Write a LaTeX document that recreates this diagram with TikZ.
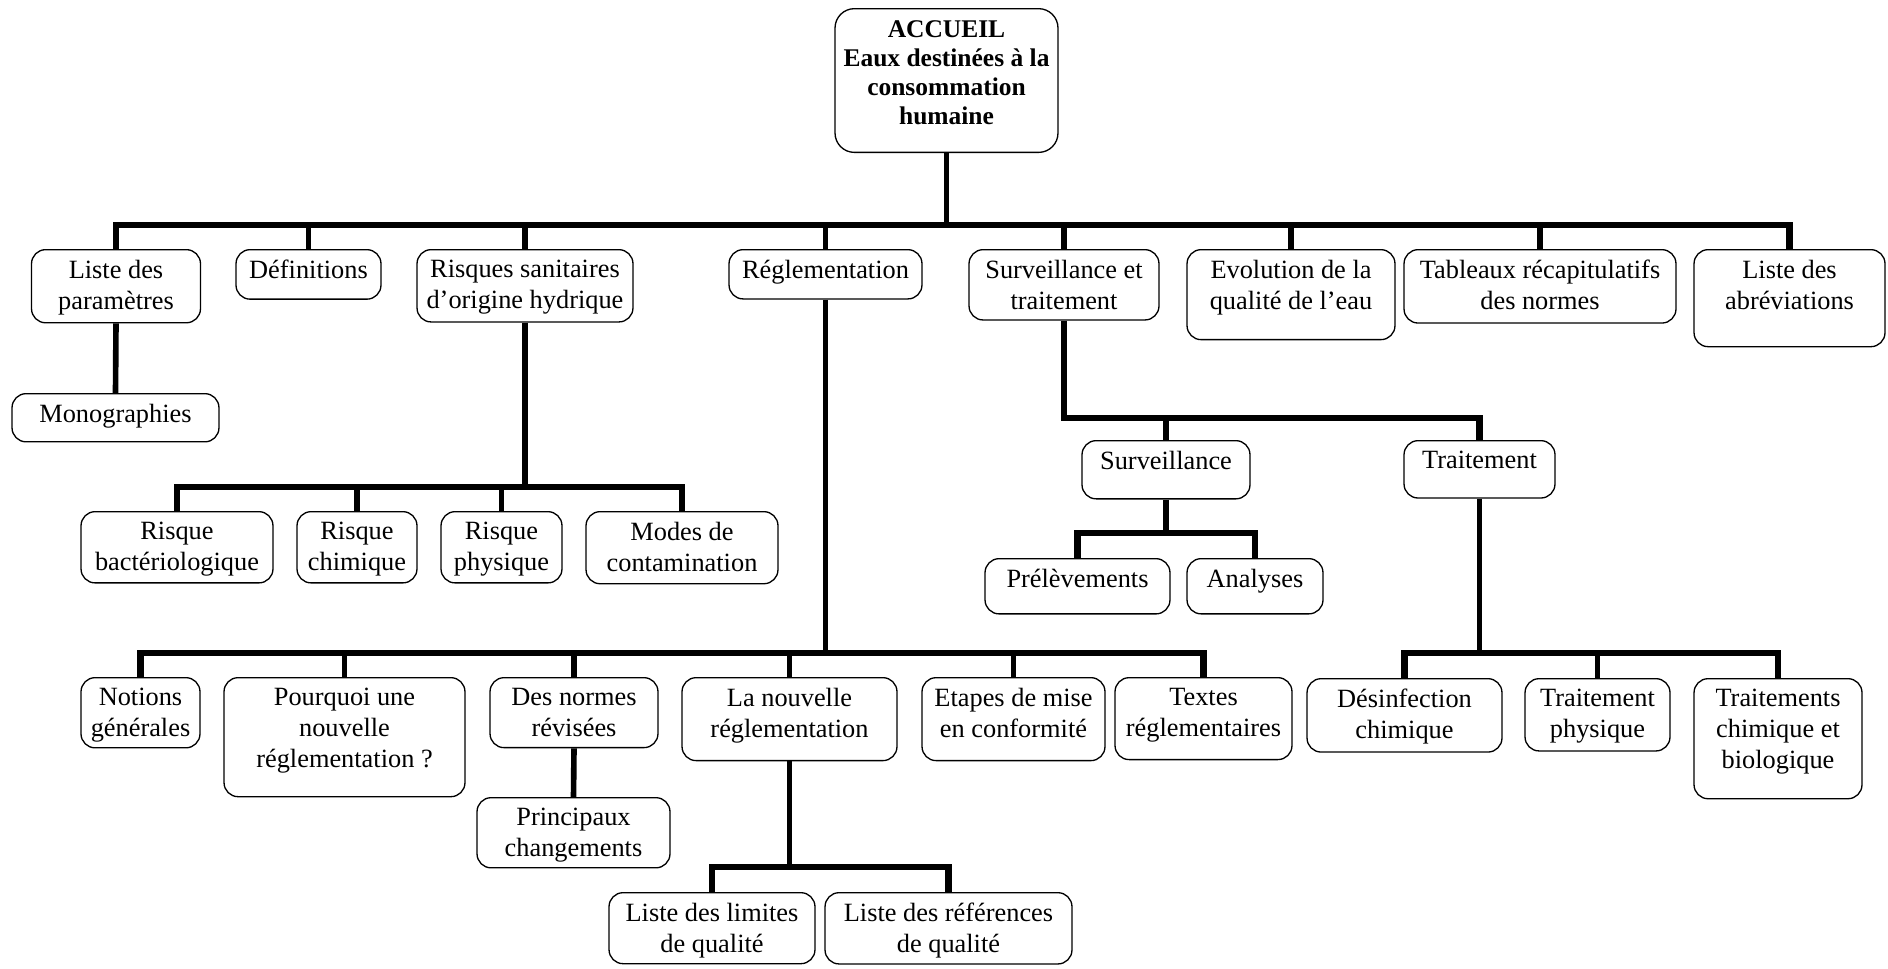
\documentclass[tikz,border=0pt]{standalone}
\usepackage{fontspec}
\setmainfont{Liberation Serif}
\usetikzlibrary{calc}

\begin{document}
\begin{tikzpicture}[x=0.02cm, y=-0.02cm, font=\fontsize{15}{17.6}\selectfont,
    box/.style={draw, line width=0.75pt, rounded corners=8pt, align=center, anchor=north,
                inner xsep=3pt, inner ysep=6pt, text depth=1.6pt},
    bar/.style={line width=3.8pt},
    drop/.style={line width=3.2pt}]
  \useasboundingbox (0,0) rectangle (1888,968);

  % accueil
  \node[box, minimum width=4.46cm, inner ysep=7pt, text depth=8.7pt, rounded corners=11pt,
        font=\fontsize{14.5}{16.5}\selectfont\bfseries] (accueil) at (946.5,8)
       {ACCUEIL\\Eaux destinées à la\\consommation\\humaine};

  % premier niveau
  \node[box, minimum width=3.38cm] (param) at (116,249) {Liste des\\paramètres};
  \node[box, minimum width=2.9cm, text depth=5.6pt] (defs) at (308.5,249) {Définitions};
  \node[box, minimum width=4.32cm] (risques) at (525,249) {Risques sanitaires\\d’origine hydrique};
  \node[box, minimum width=3.86cm, text depth=5.6pt] (regl) at (825.5,249) {Réglementation};
  \node[box, minimum width=3.8cm, text depth=0pt] (survtrait) at (1064,249) {Surveillance et\\traitement};
  \node[box, minimum width=4.16cm, text depth=11.2pt] (evol) at (1291,249) {Evolution de la\\qualité de l’eau};
  \node[box, minimum width=5.44cm] (tableaux) at (1540,249) {Tableaux récapitulatifs\\des normes};
  \node[box, minimum width=3.82cm, text depth=15.2pt] (abrev) at (1789.5,249) {Liste des\\abréviations};

  \node[box, minimum width=4.14cm, text depth=5pt] (mono) at (115.5,393) {Monographies};

  % risques
  \node[box, minimum width=3.84cm, text depth=1pt] (bacter) at (177,511) {Risque\\bactériologique};
  \node[box, minimum width=2.4cm, text depth=1pt] (chim) at (357,511) {Risque\\chimique};
  \node[box, minimum width=2.42cm, text depth=1pt] (phys) at (501.5,511) {Risque\\physique};
  \node[box, minimum width=3.84cm, text depth=1pt] (modes) at (682,511) {Modes de\\contamination};

  % surveillance et traitement
  \node[box, minimum width=3.36cm, text depth=10.7pt] (surv) at (1166,440) {Surveillance};
  \node[box, minimum width=3.02cm, text depth=10.7pt] (trait) at (1479.5,440) {Traitement};
  \node[box, minimum width=3.7cm, text depth=9pt] (prelev) at (1077.5,558) {Prélèvements};
  \node[box, minimum width=2.72cm, text depth=9pt] (analyses) at (1255,558) {Analyses};

  % reglementation
  \node[box, minimum width=2.38cm, text depth=0.4pt] (notions) at (140.5,677) {Notions\\générales};
  \node[box, minimum width=4.82cm, text depth=10.6pt] (pourquoi) at (344.5,677) {Pourquoi une\\nouvelle\\réglementation ?};
  \node[box, minimum width=3.36cm, text depth=0.4pt] (normes) at (574,677) {Des normes\\révisées};
  \node[box, minimum width=4.3cm, text depth=7.2pt] (nouvelle) at (789.5,677) {La nouvelle\\réglementation};
  \node[box, minimum width=3.66cm, text depth=7.2pt] (etapes) at (1013.5,677) {Etapes de mise\\en conformité};
  \node[box, minimum width=3.54cm, text depth=7.2pt] (textes) at (1203.5,677) {Textes\\réglementaires};
  \node[box, minimum width=3.86cm, text depth=0.4pt] (principaux) at (573.5,797) {Principaux\\changements};
  \node[box, minimum width=4.12cm, text depth=0.4pt] (limites) at (712,892) {Liste des limites\\de qualité};
  \node[box, minimum width=4.94cm, text depth=0.4pt] (references) at (948.5,892) {Liste des références\\de qualité};

  % traitement
  \node[box, minimum width=3.9cm] (desinf) at (1404.5,678) {Désinfection\\chimique};
  \node[box, minimum width=2.9cm] (traitphys) at (1597.5,678) {Traitement\\physique};
  \node[box, minimum width=3.36cm, text depth=11.2pt] (traitchim) at (1778,678) {Traitements\\chimique et\\biologique};

  % liaisons
  \draw[drop] (accueil.south) -- (accueil.south |- 0,225);
  \draw[bar] (param.north) -- (param.north |- 0,225) -- (abrev.north |- 0,225) -- (abrev.north);
  \foreach \n in {defs,risques,regl,survtrait,evol,tableaux}
    \draw[drop] (\n.north) -- (\n.north |- 0,225);

  \draw[drop] (param.south) -- (mono.north);

  \draw[drop] (risques.south) -- (risques.south |- 0,487);
  \draw[bar] (bacter.north) -- (bacter.north |- 0,487) -- (modes.north |- 0,487) -- (modes.north);
  \foreach \n in {chim,phys}
    \draw[drop] (\n.north) -- (\n.north |- 0,487);

  \draw[drop] (regl.south) -- (regl.south |- 0,653);
  \draw[bar] (notions.north) -- (notions.north |- 0,653) -- (textes.north |- 0,653) -- (textes.north);
  \foreach \n in {pourquoi,normes,nouvelle,etapes}
    \draw[drop] (\n.north) -- (\n.north |- 0,653);
  \draw[drop] (normes.south) -- (principaux.north);
  \draw[drop] (nouvelle.south) -- (nouvelle.south |- 0,867);
  \draw[bar] (limites.north) -- (limites.north |- 0,867) -- (references.north |- 0,867) -- (references.north);

  \draw[bar] (survtrait.south) |- (trait.north |- 0,418) -- (trait.north);
  \draw[drop] (surv.north) -- (surv.north |- 0,418);
  \draw[drop] (surv.south) -- (surv.south |- 0,533);
  \draw[bar] (prelev.north) -- (prelev.north |- 0,533) -- (analyses.north |- 0,533) -- (analyses.north);

  \draw[drop] (trait.south) -- (trait.south |- 0,653);
  \draw[bar] (desinf.north) -- (desinf.north |- 0,653) -- (traitchim.north |- 0,653) -- (traitchim.north);
  \draw[drop] (traitphys.north) -- (traitphys.north |- 0,653);
\end{tikzpicture}
\end{document}
